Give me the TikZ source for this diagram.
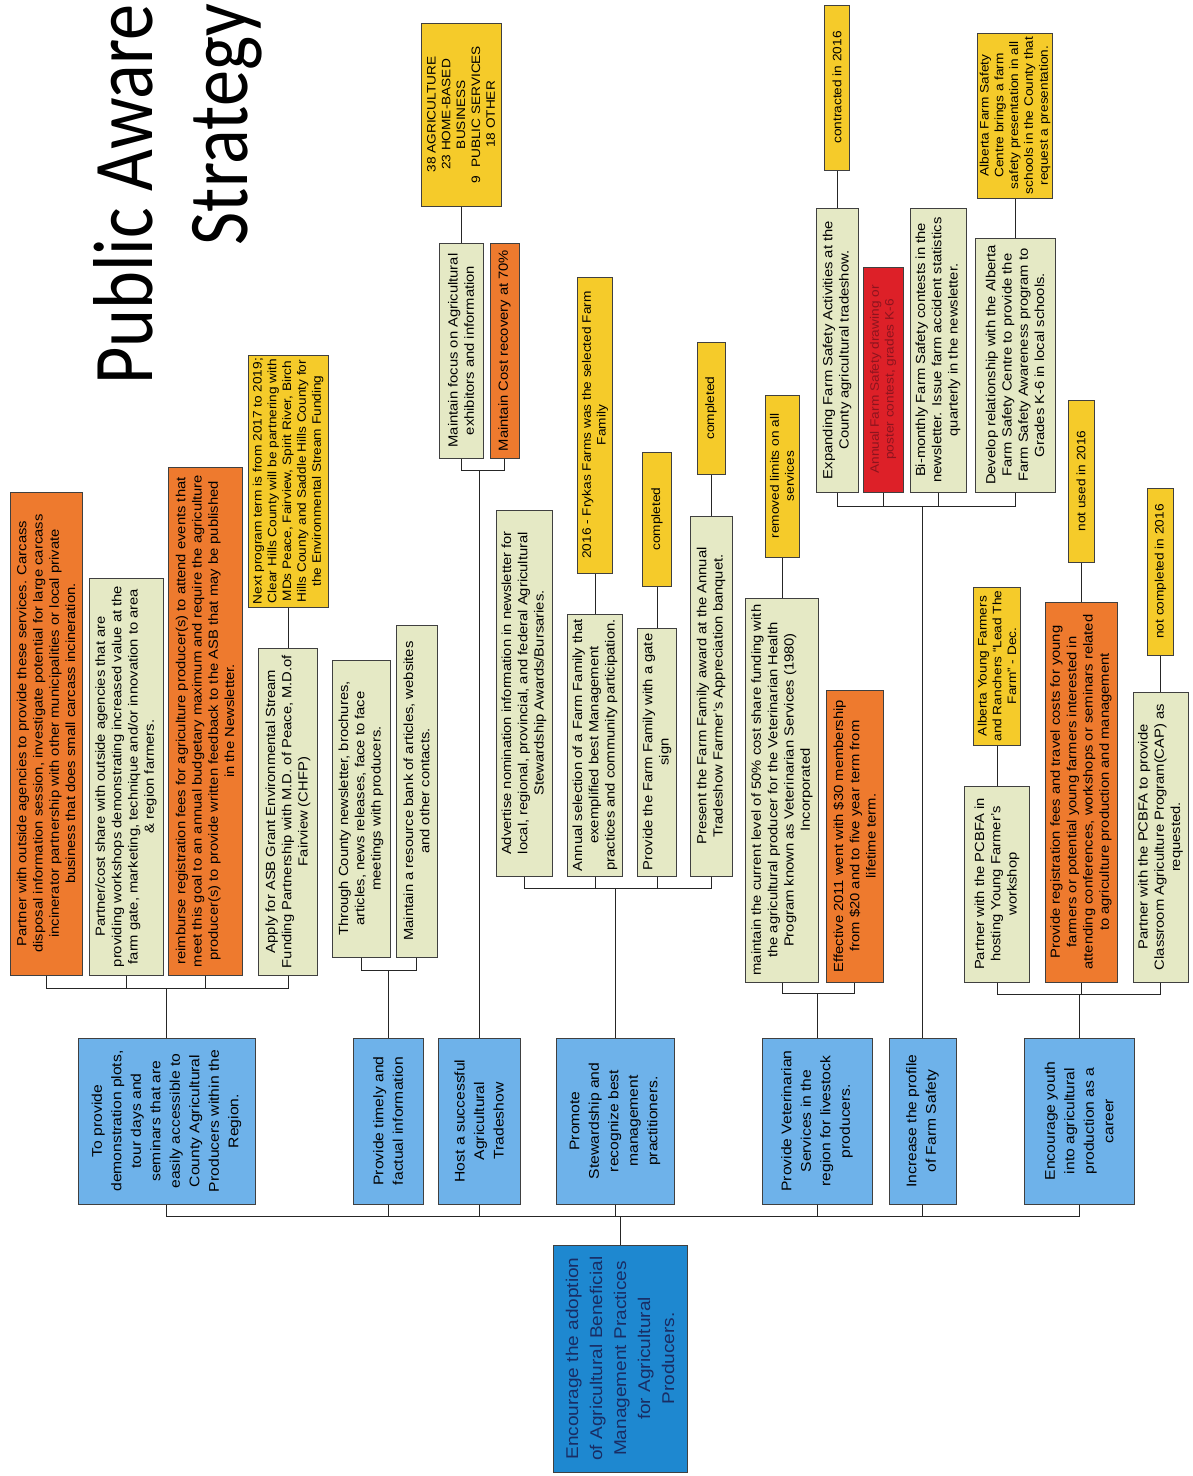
\documentclass[tikz,border=0pt]{standalone}
\usepackage{fontspec}
\setmainfont{Liberation Sans}[FakeStretch=1.12]
\newfontfamily\titlefont{Carlito}[FakeStretch=0.85]
\definecolor{cream}{RGB}{229,233,197}
\definecolor{hotorange}{RGB}{238,122,46}
\definecolor{noteyellow}{RGB}{245,203,42}
\definecolor{alertred}{RGB}{221,32,40}
\definecolor{alertink}{RGB}{140,20,30}
\definecolor{goalblue}{RGB}{110,178,234}
\definecolor{rootblue}{RGB}{30,136,208}
\definecolor{rootink}{RGB}{25,45,100}

\begin{document}
\begin{tikzpicture}[
            x=1pt, y=-1pt,
            box/.style={rotate=90, draw=black!75, line width=1pt, align=center, inner sep=1pt},
            detail/.style={box, fill=cream, font=\fontsize{13.2}{16.3}\selectfont},
            hot/.style={box, fill=hotorange, font=\fontsize{13.2}{16.3}\selectfont},
            note/.style={box, fill=noteyellow, font=\fontsize{12.2}{14.8}\selectfont},
            alert/.style={box, fill=alertred, text=alertink, font=\fontsize{12.2}{14.8}\selectfont},
            goal/.style={box, fill=goalblue, minimum width=166, font=\fontsize{14}{19.5}\selectfont},
            link/.style={line width=0.9pt, black!85}
        ]
            \useasboundingbox (0,0) rectangle (1193,1476);
            \node[rotate=90, anchor=east, align=right, inner sep=0pt, font=\titlefont\fontsize{85}{95}\selectfont] (title) at (178,4) {Public Aware\\Strategy};

            \node[box, fill=rootblue, text=rootink, minimum width=227, minimum height=134, font=\fontsize{17}{24}\selectfont] (root) at (620,1358.5) {Encourage the adoption\\of Agricultural Beneficial\\Management Practices\\for Agricultural\\Producers.};

            \node[goal, minimum height=177] (g1) at (166.5,1121) {To provide\\demonstration plots,\\tour days and\\seminars that are\\easily accessible to\\County Agricultural\\Producers within the\\Region.};
            \node[goal, minimum height=70] (g2) at (388,1121) {Provide timely and\\factual information};
            \node[goal, minimum height=82] (g3) at (479,1121) {Host a successful\\Agricultural\\Tradeshow};
            \node[goal, minimum height=118] (g4) at (615,1121) {Promote\\Stewardship and\\recognize best\\management\\practitioners.};
            \node[goal, minimum height=110] (g5) at (817,1121) {Provide Veterinarian\\Services in the\\region for livestock\\producers.};
            \node[goal, minimum height=67] (g6) at (922.5,1121) {Increase the profile\\of Farm Safety};
            \node[goal, minimum height=110] (g7) at (1079,1121) {Encourage youth\\into agricultural\\production as a\\career};

            \node[hot, minimum width=483, minimum height=72] (c1a) at (46,733.5) {Partner with outside agencies to provide these services.  Carcass\\disposal information session, investigate potential for large  carcass\\incinerator partnership with other municipalities or local private\\business that does small carcass incineration.};
            \node[detail, minimum width=397, minimum height=74] (c1b) at (126,776.5) {Partner/cost share with outside agencies that are\\providing workshops demonstrating increased value at the\\farm gate, marketing, technique and/or innovation to area\\\& region farmers.};
            \node[hot, minimum width=508, minimum height=74] (c1c) at (205,721) {reimburse registration fees for agriculture producer(s) to attend events that\\meet this goal to an annual budgetary maximum and require the agriculture\\producer(s) to provide written feedback to the ASB that may be published\\in the Newsletter.};
            \node[detail, minimum width=327, minimum height=59] (c1d) at (288,811.5) {Apply for ASB Grant Environmental Stream\\Funding Partnership with M.D. of Peace, M.D.of\\Fairview (CHFP)};
            \node[note, minimum width=252, minimum height=80] (n1d) at (288,481) {Next program term is from 2017 to 2019;\\Clear Hills County will be partnering with\\MDs Peace, Fairview, Spirit River, Birch\\Hills County and Saddle Hills County for\\the Environmental Stream Funding};

            \node[detail, minimum width=297, minimum height=58] (c2a) at (361,808.5) {Through County newsletter, brochures,\\articles, news releases, face to face\\meetings with producers.};
            \node[detail, minimum width=332, minimum height=41] (c2b) at (416.5,791) {Maintain a resource bank of articles, websites\\and other contacts.};

            \node[detail, minimum width=215, minimum height=44] (c3a) at (461,350.5) {Maintain focus on Agricultural\\exhibitors and information};
            \node[hot, minimum width=215, minimum height=29] (c3b) at (504.5,350.5) {Maintain Cost recovery at 70\%};
            \node[note, minimum width=183, minimum height=80] (n3a) at (461,114.5) {38 AGRICULTURE\\23 HOME-BASED\\BUSINESS\\9 \ PUBLIC SERVICES\\18 OTHER};

            \node[detail, minimum width=366, minimum height=56] (c4a) at (524,693) {Advertise nomination information in newsletter for\\local, regional, provincial, and federal Agricultural\\Stewardship Awards/Bursaries.};
            \node[detail, minimum width=262, minimum height=55] (c4b) at (595,745) {Annual selection of a Farm Family that\\exemplified best Management\\practices and community participation.};
            \node[note, minimum width=296, minimum height=35] (n4b) at (595,425) {2016 - Frykas Farms was the selected Farm\\Family};
            \node[detail, minimum width=248, minimum height=39] (c4c) at (657,752) {Provide the Farm Family with a gate\\sign};
            \node[note, minimum width=134, minimum height=29] (n4c) at (657,519) {completed};
            \node[detail, minimum width=360, minimum height=42] (c4d) at (711,696) {Present the Farm Family award at the Annual\\Tradeshow Farmer's Appreciation banquet.};
            \node[note, minimum width=132, minimum height=28] (n4d) at (711,408) {completed};

            \node[detail, minimum width=384, minimum height=73] (c5a) at (782,790) {maintain the current level of 50\% cost share funding with\\the agricultural producer for the Veterinarian Health\\Program known as Veterinarian Services (1980)\\Incorporated};
            \node[note, minimum width=162, minimum height=34] (n5a) at (782,476) {removed limits on all\\services};
            \node[hot, minimum width=292, minimum height=57] (c5b) at (854.5,836) {Effective 2011 went with \$30 membership\\from \$20 and to five year term from\\lifetime term.};

            \node[detail, minimum width=284, minimum height=42] (c6a) at (837,350) {Expanding Farm Safety Activities at the\\County agricultural tradeshow.};
            \node[note, minimum width=165, minimum height=25] (n6a) at (837,87.5) {contracted in 2016};
            \node[alert, minimum width=225, minimum height=40] (c6b) at (883,379.5) {Annual Farm Safety drawing or\\poster contest, grades K-6};
            \node[detail, minimum width=284, minimum height=56] (c6c) at (938,350) {Bi-monthly Farm Safety contests in the\\newsletter. Issue farm accident statistics\\quarterly in the newsletter.};
            \node[detail, minimum width=254, minimum height=80] (c6d) at (1015,365) {Develop relationship with the Alberta\\Farm Safety Centre to provide the\\Farm Safety Awareness program to\\Grades K-6 in local schools.};
            \node[note, minimum width=165, minimum height=75] (n6d) at (1015,115.5) {Alberta Farm Safety\\Centre brings a farm\\safety presentation in all\\schools in the County that\\request a presentation.};

            \node[detail, minimum width=196, minimum height=65] (c7a) at (997,884) {Partner with the PCBFA in\\hosting Young Farmer's\\workshop};
            \node[note, minimum width=158, minimum height=47] (n7a) at (997,666) {Alberta Young Farmers\\and Ranchers ``Lead The\\Farm'' - Dec.};
            \node[hot, minimum width=380, minimum height=72] (c7b) at (1081,792) {Provide registration fees and travel costs for young\\farmers or potential young farmers interested in\\attending conferences, workshops or seminars related\\to agriculture production and management};
            \node[note, minimum width=162, minimum height=26] (n7b) at (1081,481) {not used in 2016};
            \node[detail, minimum width=290, minimum height=55] (c7c) at (1160.5,837) {Partner with the PCBFA to provide\\Classroom Agriculture Program(CAP) as\\requested.};
            \node[note, minimum width=167, minimum height=26] (n7c) at (1160.5,571.5) {not completed in 2016};

            \coordinate (rb) at (620,1216);
            \draw[link] (root.east) -- (rb) (g1.west) |- (rb) (g2.west) |- (rb) (g3.west) |- (rb) (g4.west) |- (rb) (g5.west) |- (rb) (g6.west) |- (rb) (g7.west) |- (rb);

            \coordinate (b1) at (166.5,988);
            \draw[link] (g1.east) -- (b1) (c1a.west) |- (b1) (c1b.west) |- (b1) (c1c.west) |- (b1) (c1d.west) |- (b1) (n1d.west) -- (c1d.east);
            \coordinate (b2) at (388,970);
            \draw[link] (g2.east) -- (b2) (c2a.west) |- (b2) (c2b.west) |- (b2);
            \coordinate (b3) at (479,470);
            \draw[link] (g3.east) -- (b3) (c3a.west) |- (b3) (c3b.west) |- (b3) (n3a.west) -- (c3a.east);
            \coordinate (b4) at (615,888);
            \draw[link] (g4.east) -- (b4) (c4a.west) |- (b4) (c4b.west) |- (b4) (c4c.west) |- (b4) (c4d.west) |- (b4) (n4b.west) -- (c4b.east) (n4c.west) -- (c4c.east) (n4d.west) -- (c4d.east);
            \coordinate (b5) at (817,993);
            \draw[link] (g5.east) -- (b5) (c5a.west) |- (b5) (c5b.west) |- (b5) (n5a.west) -- (c5a.east);
            \coordinate (b6) at (922.5,506);
            \draw[link] (g6.east) -- (b6) (c6a.west) |- (b6) (c6b.west) |- (b6) (c6c.west) |- (b6) (c6d.west) |- (b6) (n6a.west) -- (c6a.east) (n6d.west) -- (c6d.east);
            \coordinate (b7) at (1079,994);
            \draw[link] (g7.east) -- (b7) (c7a.west) |- (b7) (c7b.west) |- (b7) (c7c.west) |- (b7) (n7a.west) -- (c7a.east) (n7b.west) -- (c7b.east) (n7c.west) -- (c7c.east);
        \end{tikzpicture}
\end{document}
